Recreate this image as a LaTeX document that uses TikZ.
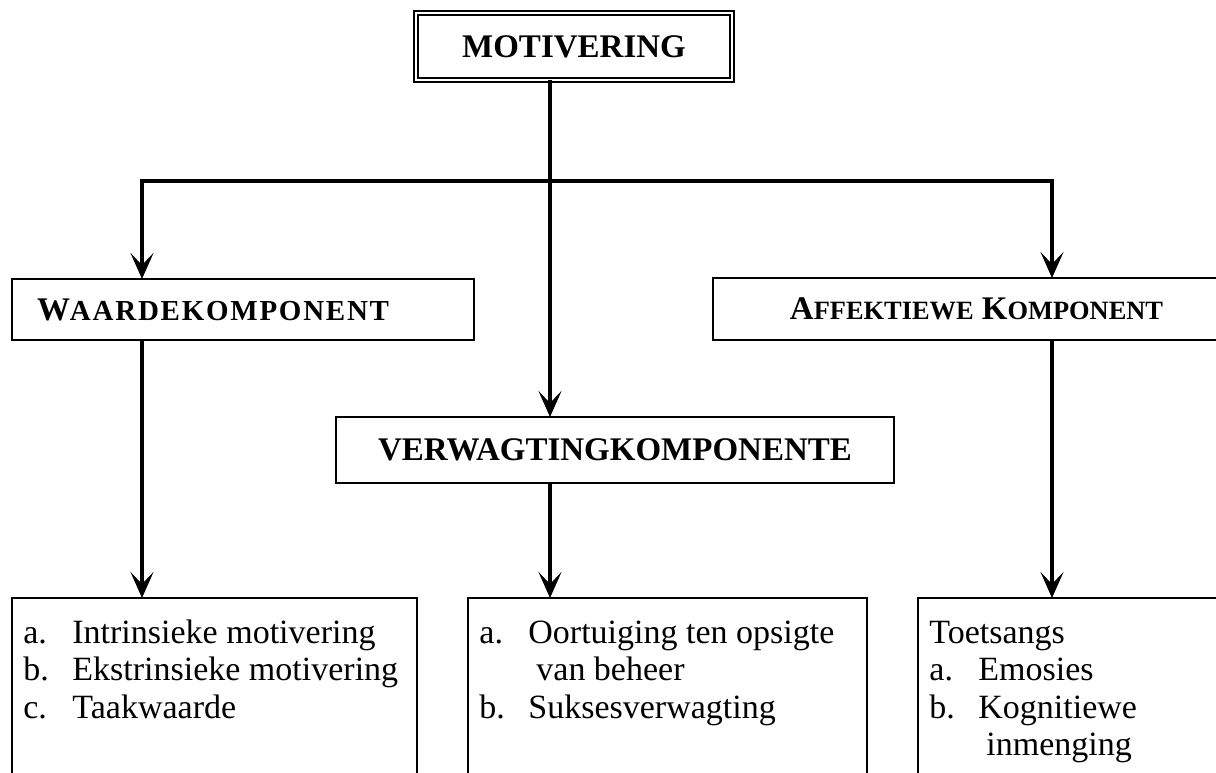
\documentclass[tikz,border=0pt]{standalone}
\usepackage{fontspec}
\setmainfont{Liberation Serif}
\usetikzlibrary{arrows.meta,calc}

\newcommand{\klkap}[1]{{\fontsize{13.2pt}{15pt}\selectfont #1}}
\newcommand{\grkap}[1]{{\fontsize{14.5pt}{16pt}\selectfont\addfontfeature{LetterSpace=6}#1}}
\newcommand{\punt}[2]{\makebox[24.5pt][l]{#1}#2}
\newcommand{\verder}[1]{\hspace*{28.5pt}#1}

\tikzset{
  kop/.style={draw, line width=1.1pt, outer sep=0pt, font=\fontsize{16.5pt}{19pt}\selectfont\bfseries},
  lysbox/.style={draw, line width=1.1pt, outer sep=0pt, minimum height=101pt},
  lystext/.style={inner sep=0pt, anchor=base west, font=\fontsize{17pt}{18.75pt}\selectfont},
  lyn/.style={line width=1.6pt},
}

\begin{document}
\begin{tikzpicture}[x=1pt,y=-1pt,>={Stealth[length=13pt,width=11.5pt,inset=6pt]}]
  \clip (0,0) rectangle (608,386);
  % kopblokke
  \node[kop, double, double distance=0.9pt, minimum width=158pt, minimum height=33.4pt] (motiv) at (287,23.25) {MOTIVERING};
  \node[kop, minimum width=231pt, minimum height=30.5pt, text width=206pt, inner xsep=12.5pt, align=left] (waarde) at (121.5,154.75) {W\grkap{AARDEKOMPONENT}};
  \node[kop, minimum width=263.5pt, minimum height=31pt] (affek) at (488.25,154.5) {A\klkap{FFEKTIEWE} K\klkap{OMPONENT}};
  \node[kop, minimum width=279pt, minimum height=33pt] (verwag) at (307.5,225) {VERWAGTINGKOMPONENTE};
  % lyste onder
  \node[lysbox, minimum width=202.5pt] (lysa) at (107.25,349.5) {};
  \node[lysbox, minimum width=199.5pt] (lysb) at (333.75,349.5) {};
  \node[lysbox, minimum width=201pt] (lysc) at (559.5,349.5) {};
  \node[lystext] (lysatxt) at ($(lysa.north west)+(5.5,22.5)$) {\parbox[t]{195pt}{\raggedright
    \punt{a.}{Intrinsieke motivering}\\ \punt{b.}{Ekstrinsieke motivering}\\ \punt{c.}{Taakwaarde}}};
  \node[lystext] (lysbtxt) at ($(lysb.north west)+(5.5,22.5)$) {\parbox[t]{195pt}{\raggedright
    \punt{a.}{Oortuiging ten opsigte}\\ \verder{van beheer}\\ \punt{b.}{Suksesverwagting}}};
  \node[lystext] (lysctxt) at ($(lysc.north west)+(5.5,22.5)$) {\parbox[t]{195pt}{\raggedright
    Toetsangs\\ \punt{a.}{Emosies}\\ \punt{b.}{Kognitiewe}\\ \verder{inmenging}}};
  % pyle
  \coordinate (stam) at (275,90.5);
  \coordinate (links) at (71,90.5);
  \coordinate (regs) at (526,90.5);
  \draw[lyn,<->] (links |- waarde.north) -- (links) -- (regs) -- (regs |- affek.north);
  \draw[lyn,->] (stam |- motiv.south) -- (stam |- verwag.north);
  \draw[lyn,->] (links |- waarde.south) -- (links |- lysa.north);
  \draw[lyn,->] (stam |- verwag.south) -- (stam |- lysb.north);
  \draw[lyn,->] (regs |- affek.south) -- (regs |- lysc.north);
\end{tikzpicture}
\end{document}
